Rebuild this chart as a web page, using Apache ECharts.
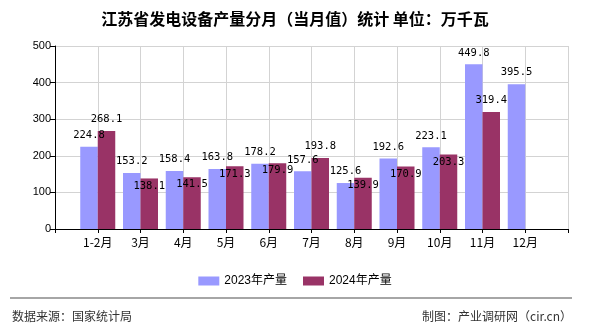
<!DOCTYPE html>
<html>
<head>
<meta charset="utf-8">
<script src="https://cdn.jsdelivr.net/npm/echarts@6/dist/echarts.min.js"></script>
<style>html,body{margin:0;padding:0;background:#fff}#c{width:590px;height:330px}</style>
</head>
<body>
<div id="c"></div>
<script>
var months = ['1-2月','3月','4月','5月','6月','7月','8月','9月','10月','11月','12月'];
var yTicks = [0,100,200,300,400,500];
var seriesNames = ['2023年产量','2024年产量'];
var values2023 = [224.8,153.2,158.4,163.8,178.2,157.6,125.6,192.6,223.1,449.8,395.5];
var values2024 = [268.1,138.1,141.5,171.3,179.9,193.8,139.9,170.9,203.3,319.4,null];

var cats = [''].concat(months, ['']);
function pad(arr){ return ['-'].concat(arr.map(function(v){return v==null?'-':v;}), ['-']); }

var yMin = yTicks[0], yMax = yTicks[yTicks.length-1];
var plotH = 183;
var unitPx = plotH/(yMax-yMin);
var labelFont = {fontFamily:'DejaVu Sans Mono', fontSize:10.5, color:'#000'};

var d23 = pad(values2023).map(function(v){
  return v==='-'?v:{value:v};
});
var d24 = pad(values2024).map(function(v,i){
  if(v==='-') return v;
  var o = values2023[i-1];
  var overlap = o!=null && Math.abs(v-o)*unitPx < 13;
  return {value:v, label: overlap ? {position:'insideTop', distance:2} : {position:'top', distance:6}};
});

var chart = echarts.init(document.getElementById('c'));
chart.setOption({
  animation:false,
  color:['#9999FF','#993366'],
  title:{text:'江苏省发电设备产量分月（当月值）统计 单位：万千瓦', left:'center', top:6,
    textStyle:{fontFamily:'Noto Sans CJK SC', fontSize:16, fontWeight:'bold', color:'#000'}},
  legend:{data:seriesNames, left:'center', top:270, itemWidth:21, itemHeight:9, itemGap:16,
    textStyle:{fontFamily:'Liberation Sans, Noto Sans CJK SC', fontSize:12, color:'#000'}, icon:'rect'},
  grid:{left:55, right:22, top:46, bottom:101, containLabel:false},
  xAxis:{type:'category', data:cats, boundaryGap:false,
    axisLine:{lineStyle:{color:'#000'}},
    axisTick:{show:true, length:4, lineStyle:{color:'#000'}},
    axisLabel:{fontFamily:'Noto Sans CJK SC', fontSize:12, color:'#000', margin:7, interval:0},
    splitLine:{show:true, lineStyle:{color:'#d3d3d3'}}},
  yAxis:{type:'value', min:yMin, max:yMax, interval:100,
    axisLine:{show:true, lineStyle:{color:'#000'}},
    axisTick:{show:true, length:5, lineStyle:{color:'#000'}},
    axisLabel:{fontFamily:'Liberation Sans', fontSize:11, color:'#000', margin:4},
    splitLine:{show:true, lineStyle:{color:'#d3d3d3'}}},
  series:[
    {name:seriesNames[0], type:'bar', data:d23, barWidth:17.5, barGap:'0%',
      label:Object.assign({show:true, position:'top', distance:6}, labelFont)},
    {name:seriesNames[1], type:'bar', data:d24, barWidth:17.5, barGap:'0%',
      label:Object.assign({show:true, position:'top', distance:6}, labelFont)}
  ],
  graphic:[
    {type:'line', shape:{x1:10,y1:298,x2:572,y2:298}, style:{stroke:'#888', lineWidth:1.5}},
    {type:'text', left:12, top:310, style:{text:'数据来源：国家统计局', font:'12px "Noto Sans CJK SC"', fill:'#333'}},
    {type:'text', right:18, top:310, style:{text:'制图：产业调研网（cir.cn）', font:'12px "Noto Sans CJK SC"', fill:'#333'}}
  ]
});
</script>
</body>
</html>
